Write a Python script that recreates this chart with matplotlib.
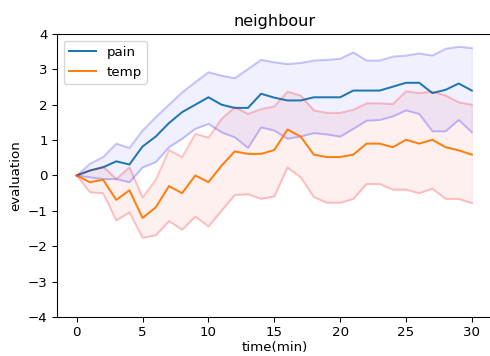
import numpy as np
import matplotlib.pyplot as plt

time = np.arange(0, 31)

pain_mean = [0, 0.14, 0.23, 0.4, 0.31, 0.82, 1.1, 1.48, 1.79, 2.0, 2.21, 2.0, 1.91, 1.91, 2.31, 2.2,
             2.12, 2.12, 2.21, 2.21, 2.21, 2.4, 2.4, 2.4, 2.51, 2.62, 2.62, 2.33, 2.42, 2.6, 2.4]
pain_upper = [0, 0.33, 0.52, 0.9, 0.78, 1.27, 1.65, 2.0, 2.35, 2.64, 2.92, 2.82, 2.75, 3.01, 3.27, 3.2,
              3.15, 3.18, 3.25, 3.27, 3.3, 3.48, 3.25, 3.25, 3.36, 3.39, 3.45, 3.39, 3.58, 3.64, 3.6]
pain_lower = [0, -0.05, -0.1, -0.1, -0.19, 0.23, 0.38, 0.8, 1.04, 1.32, 1.46, 1.22, 1.08, 0.78, 1.36, 1.27,
              1.04, 1.1, 1.2, 1.16, 1.1, 1.32, 1.55, 1.57, 1.67, 1.84, 1.74, 1.25, 1.25, 1.57, 1.22]

temp_mean = [0, -0.19, -0.12, -0.69, -0.42, -1.2, -0.9, -0.3, -0.5, 0.0, -0.19, 0.28, 0.68, 0.61, 0.61, 0.72,
             1.3, 1.1, 0.59, 0.52, 0.52, 0.59, 0.9, 0.9, 0.8, 1.01, 0.9, 1.01, 0.8, 0.71, 0.59]
temp_upper = [0, 0.14, 0.25, -0.1, 0.23, -0.62, -0.12, 0.72, 0.52, 1.18, 1.07, 1.6, 1.93, 1.74, 1.88, 1.95,
              2.37, 2.26, 1.84, 1.77, 1.77, 1.86, 2.04, 2.04, 2.02, 2.38, 2.33, 2.37, 2.26, 2.07, 2.0]
temp_lower = [0, -0.47, -0.5, -1.27, -1.04, -1.76, -1.69, -1.29, -1.53, -1.16, -1.44, -0.99, -0.55, -0.53, -0.66, -0.59,
              0.23, -0.05, -0.61, -0.77, -0.77, -0.66, -0.24, -0.24, -0.4, -0.4, -0.5, -0.37, -0.66, -0.66, -0.78]

DPI = 96
fig = plt.figure(figsize=(490 / DPI, 356 / DPI), dpi=DPI)
ax = fig.add_axes([0.1163, 0.1096, 0.887, 0.795])

ax.plot(time, pain_mean, color='tab:blue', label='pain')
ax.plot(time, pain_upper, color='blue', alpha=0.2)
ax.plot(time, pain_lower, color='blue', alpha=0.2)
ax.fill_between(time, pain_lower, pain_upper, color='blue', alpha=0.06)

ax.plot(time, temp_mean, color='tab:orange', label='temp')
ax.plot(time, temp_upper, color='red', alpha=0.2)
ax.plot(time, temp_lower, color='red', alpha=0.2)
ax.fill_between(time, temp_lower, temp_upper, color='red', alpha=0.06)

ax.set_ylim(-4, 4)
ax.set_xlabel("time(min)", labelpad=1)
ax.set_ylabel("evaluation")
ax.set_title("neighbour")
ax.legend(loc='upper left')

plt.savefig("out.png", dpi=DPI)
